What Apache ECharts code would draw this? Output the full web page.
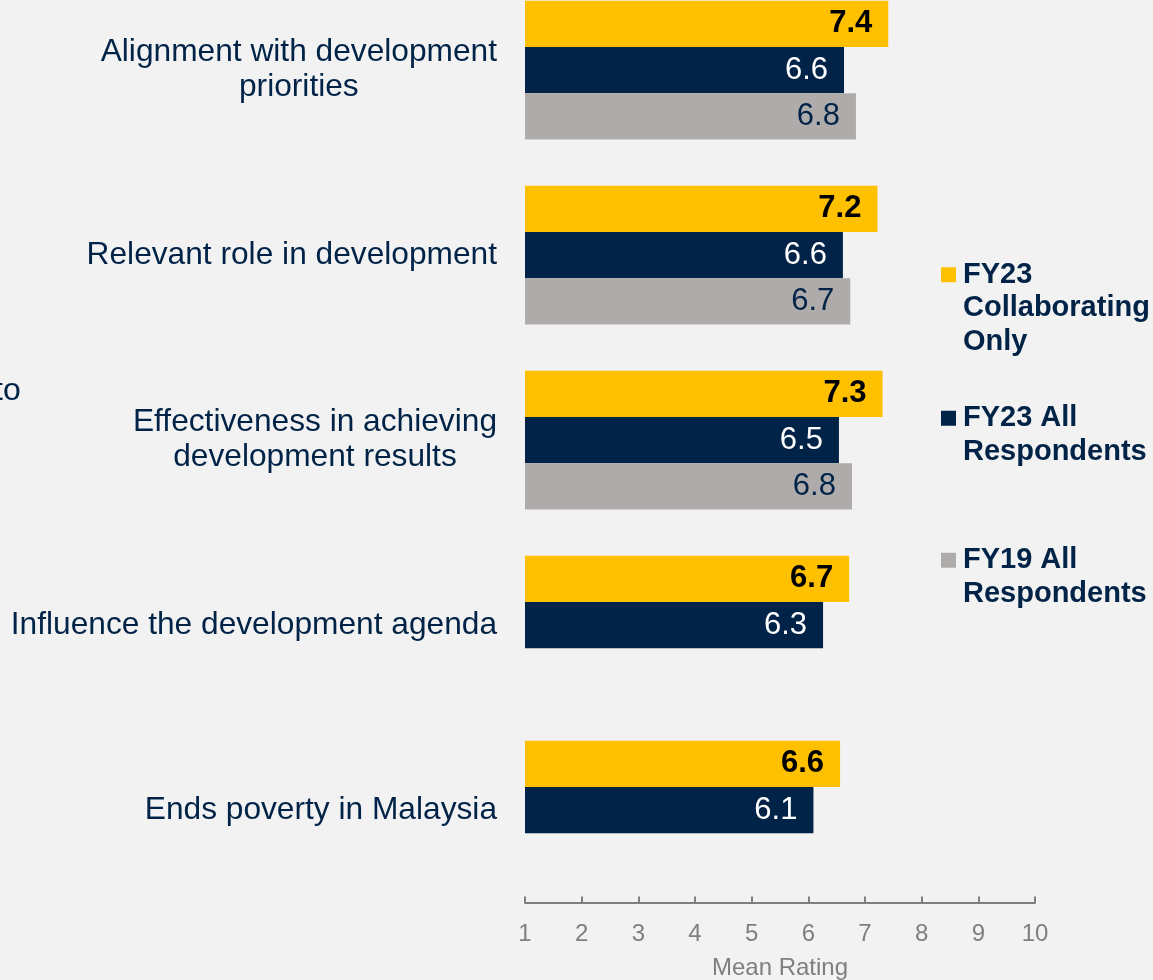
<!DOCTYPE html>
<html>
<head>
<meta charset="utf-8">
<script src="https://cdn.jsdelivr.net/npm/echarts@6/dist/echarts.min.js"></script>
<style>
    html, body { margin: 0; padding: 0; background: #f2f2f2; }
    #main { width: 1153px; height: 980px; }
</style>
</head>
<body>
<div id="main"></div>
<script>
// categories, top to bottom
var categories = [
    'Alignment with development\npriorities',
    'Relevant role in development',
    'Effectiveness in achieving\ndevelopment results',
    'Influence the development agenda',
    'Ends poverty in Malaysia'
];
var seriesNames = ['FY23 Collaborating Only', 'FY23 All Respondents', 'FY19 All Respondents'];
var collaborating = [7.41, 7.22, 7.31, 6.72, 6.56];
var allFY23 = [6.63, 6.61, 6.54, 6.26, 6.09];
var allFY19 = [6.84, 6.74, 6.77, null, null];
var xTicks = [1, 2, 3, 4, 5, 6, 7, 8, 9, 10];

var navy = '#002347';
var font = '"Liberation Sans", Arial, sans-serif';
var lh = 33.5;

/**
 * one legend per item; blank lines on top keep the square on the first text line
 */
function legendItem(name, text, top){
    var lines = text.split('\n').length;
    var pad = new Array(lines).join('\n');
    return {
        orient: 'vertical',
        left: 941,
        top: top,
        padding: 0,
        itemWidth: 15,
        itemHeight: 15,
        icon: 'rect',
        selectedMode: false,
        data: [name],
        formatter: function(){ return pad + text; },
        textStyle: {
            color: navy,
            fontFamily: font,
            fontWeight: 'bold',
            fontSize: 29,
            lineHeight: lh,
            padding: [0, 0, 0, 2]
        }
    };
}

function barSeries(name, data, color, labelColor, bold){
    return {
        name: name,
        type: 'bar',
        data: data,
        barGap: '0%',
        barCategoryGap: '25%',
        itemStyle: { color: color },
        label: {
            show: true,
            position: 'insideRight',
            distance: 16,
            color: labelColor,
            fontFamily: font,
            fontSize: 31,
            fontWeight: bold ? 'bold' : 'normal',
            formatter: function(p){ return p.value == null ? '' : p.value.toFixed(1); }
        }
    };
}

var chart = echarts.init(document.getElementById('main'));
var option = {
    backgroundColor: '#f2f2f2',
    animation: false,
    textStyle: { fontFamily: font },
    grid: {
        left: 525,
        right: 118,
        top: -22.5,
        bottom: 77.5,
        containLabel: false,
        outerBoundsMode: 'none'
    },
    legend: [
        legendItem(seriesNames[0], 'FY23\nCollaborating\nOnly', 191),
        legendItem(seriesNames[1], 'FY23 All\nRespondents', 368),
        legendItem(seriesNames[2], 'FY19 All\nRespondents', 510)
    ],
    xAxis: {
        type: 'value',
        min: xTicks[0],
        max: xTicks[xTicks.length - 1],
        interval: 1,
        splitLine: { show: false },
        axisLine: { show: true, lineStyle: { color: '#7f7f7f', width: 2 } },
        axisTick: { show: true, inside: true, length: 6, lineStyle: { color: '#7f7f7f', width: 2 } },
        axisLabel: { color: '#7f7f7f', fontSize: 24, margin: 20, fontFamily: font },
        name: 'Mean Rating',
        nameLocation: 'middle',
        nameGap: 54,
        nameTextStyle: { color: '#7f7f7f', fontSize: 24, fontFamily: font }
    },
    yAxis: {
        type: 'category',
        inverse: true,
        data: categories,
        axisLine: { show: false },
        axisTick: { show: false },
        axisLabel: {
            margin: 28,
            formatter: function(v){
                return v.split('\n').map(function(s){ return '{c|' + s + '}'; }).join('\n');
            },
            rich: {
                c: { align: 'center', color: navy, fontSize: 31.7, lineHeight: 35, fontFamily: font }
            }
        }
    },
    graphic: [
        // text clipped at the left edge of the slide
        { type: 'text', left: -6, top: 375, style: { text: 'to', fill: navy, fontSize: 32, fontFamily: font } }
    ],
    series: [
        barSeries(seriesNames[0], collaborating, '#ffc000', '#000000', true),
        barSeries(seriesNames[1], allFY23, navy, '#ffffff', false),
        barSeries(seriesNames[2], allFY19, '#afabab', navy, false)
    ]
};
chart.setOption(option);
</script>
</body>
</html>
